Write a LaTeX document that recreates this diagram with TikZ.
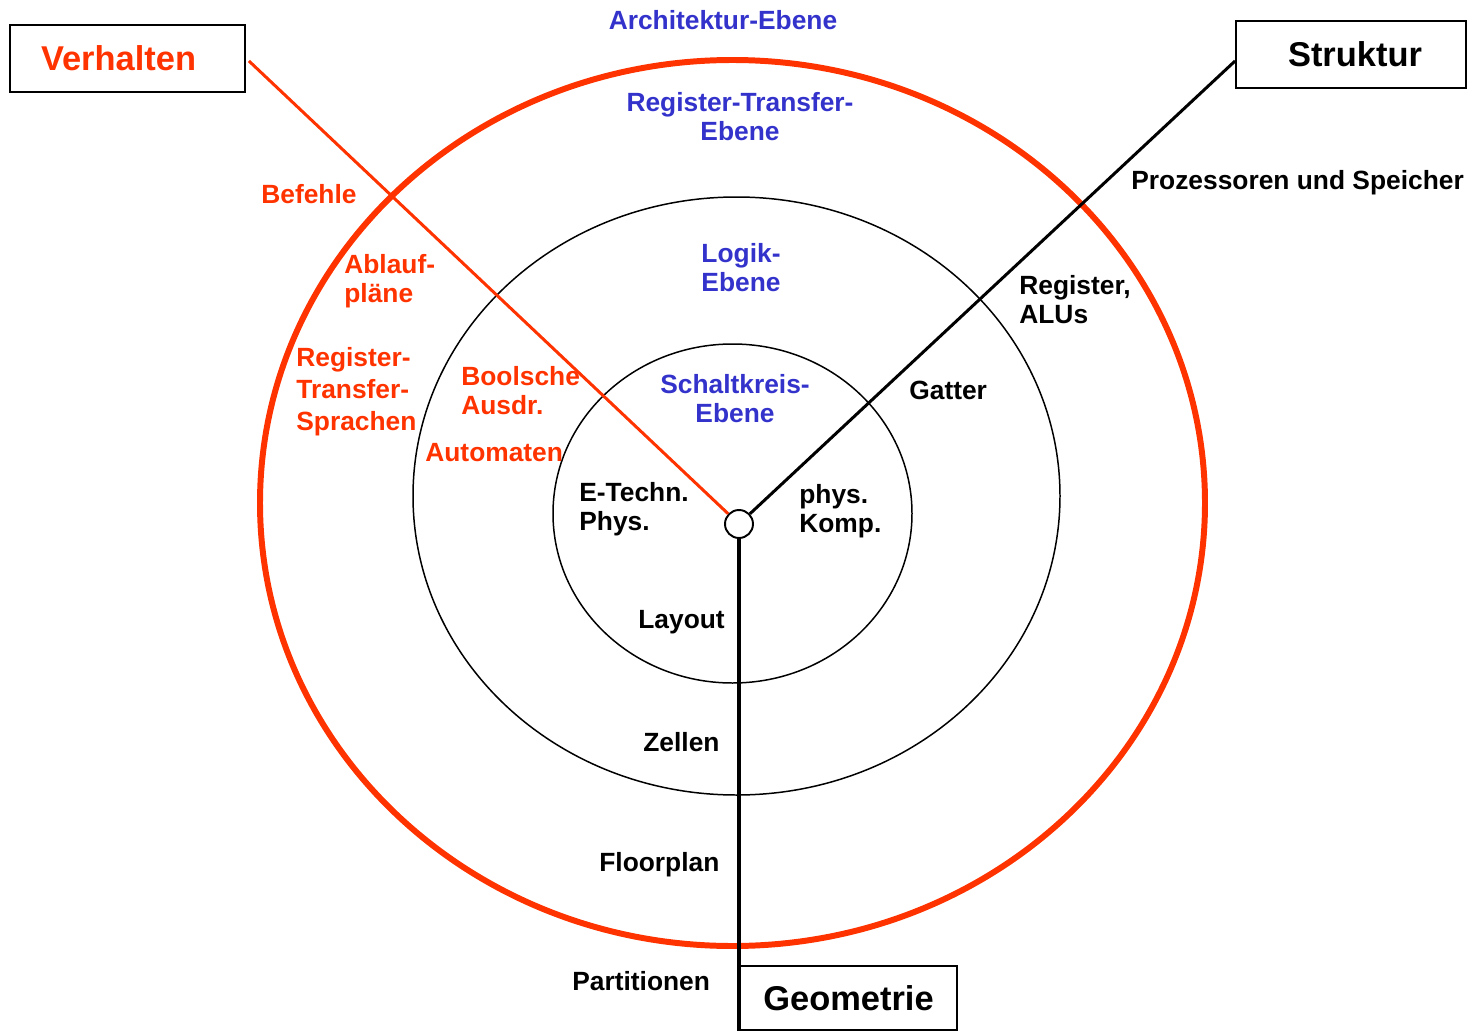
\documentclass[tikz,border=0pt]{standalone}
\usepackage{xcolor}
\usepackage{fontspec}
\setmainfont{Liberation Sans}
\usepackage{tikz}
\usetikzlibrary{calc}

\definecolor{ringred}{RGB}{255,51,0}
\definecolor{levelblue}{RGB}{51,51,204}

\begin{document}
\begin{tikzpicture}[x=0.02cm, y=-0.02cm,
    every node/.style={font=\bfseries\fontsize{15}{16.5}\selectfont, inner sep=0pt},
    lbl/.style={anchor=west, align=left},
    level/.style={levelblue, align=center},
    domainbox/.style={draw, line width=1.1pt, minimum height=1.34cm,
      font=\bfseries\fontsize{19.6}{22}\selectfont}]
  \useasboundingbox (0,0) rectangle (1468,1031);

  % Rings of the Y-diagram
  \draw[ringred, line width=3.4pt] (732.5,503) ellipse [x radius=472.5, y radius=443];
  \draw[line width=0.85pt] (736.5,496) ellipse [x radius=323.5, y radius=299];
  \draw[line width=0.85pt] (732.5,513.5) ellipse [x radius=179.5, y radius=169.5];

  % The three domains
  \node[domainbox, ringred, draw=black, text width=3.46cm, align=left, inner xsep=0.62cm] (verhalten) at (127.5,58.5) {Verhalten};
  \node[domainbox, minimum width=4.6cm, text width=4.44cm, align=center, inner xsep=0.08cm] (struktur) at (1351,54.5) {\hspace*{0.16cm}Struktur};
  \node[domainbox, minimum width=4.34cm, minimum height=1.28cm] (geometrie) at (848.5,998) {Geometrie};

  % Centre of the diagram
  \node[draw, circle, fill=white, line width=1.1pt, minimum size=0.56cm] (hub) at (739,524) {};
  \coordinate (geobase) at (hub |- geometrie.south);

  % Axes from the centre
  \draw[ringred, line width=1.7pt] ([xshift=0.06cm, yshift=-0.05cm]verhalten.east) -- (hub);
  \draw[line width=1.7pt] ([yshift=-0.13cm]struktur.west) -- (hub);
  \draw[line width=1.8pt] (hub) -- (geobase);

  % Abstraction levels
  \node[level] (archebene) at (723,20) {Architektur-Ebene};
  \node[level] (rtebene) at (740,116.5) {Register-Transfer-\\Ebene};
  \node[level] (logikebene) at (741,267.5) {Logik-\\Ebene};
  \node[level] (schaltebene) at (735,398.5) {Schaltkreis-\\Ebene};

  % Behaviour labels
  \node[lbl, ringred] (befehle) at (261,194) {Befehle};
  \node[lbl, ringred] (ablauf) at (344,281.5) {Ablauf-\\pl\"ane};
  \node[lbl, ringred, font=\bfseries\fontsize{15}{18.2}\selectfont] (rtsprachen) at (296,392) {Register-\\Transfer-\\Sprachen};
  \node[lbl, ringred] (boolsche) at (461,390.5) {Boolsche\\Ausdr.};
  \node[lbl, ringred] (automaten) at (425,453) {Automaten};
  \node[lbl] (etechn) at (579,509.5) {E-Techn.\\Phys.};

  % Structure labels
  \node[lbl] (prozessoren) at (1131,183) {Prozessoren und Speicher};
  \node[lbl] (registeralu) at (1019,300) {Register,\\ALUs};
  \node[lbl] (gatter) at (909,390) {Gatter};
  \node[lbl] (physkomp) at (799,511.5) {phys.\\Komp.};

  % Geometry labels
  \node[lbl] (layout) at (638,622) {Layout};
  \node[lbl] (zellen) at (643,742) {Zellen};
  \node[lbl] (floorplan) at (599,865) {Floorplan};
  \node[lbl] (partitionen) at (572,981) {Partitionen};
\end{tikzpicture}
\end{document}
